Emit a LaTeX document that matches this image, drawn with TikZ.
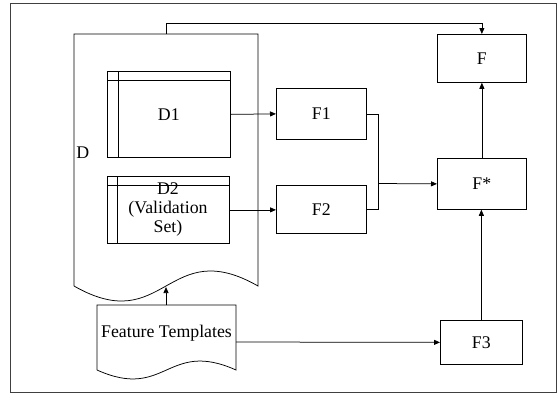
\documentclass[tikz,border=0pt]{standalone}
\usepackage{fontspec}
\setmainfont{Liberation Serif}
\usetikzlibrary{arrows.meta}
\begin{document}
\begin{tikzpicture}[x=1pt,y=-1pt,line width=0.75pt,
  txt/.style={font=\fontsize{17.8}{19}\selectfont},
  box/.style={draw,rectangle,inner sep=0pt,anchor=north west,txt},
  arr/.style={-{Triangle[length=6pt,width=5pt]}}]
\useasboundingbox (0,0) rectangle (559,394);
\draw[black!75] (10,3) rectangle (556,392);
% D document
\coordinate (Dtop) at (166,34);
\draw (74,286) -- (74,34) -- (258,34) -- (258,286)
  .. controls (167,234) and (165,338) .. (74,286);
\node[txt,anchor=west,inner sep=0pt] (Dlab) at (76,153) {D};
\coordinate (Dwave) at (166,287);
% D1
\node[box,minimum width=123pt,minimum height=86pt] (D1) at (107,71) {};
\draw (118,71) -- (118,157) (107,80) -- (230,80);
\node[txt] at (D1.center) {D1};
% D2
\node[box,minimum width=122pt,minimum height=67pt] (D2) at (107,176) {};
\draw (117,176) -- (117,243) (107,185) -- (229,185);
\node[txt,align=center,inner sep=0pt] at (168,209) {D2\\(Validation\\Set)};
% F boxes
\node[box,minimum width=89pt,minimum height=48pt] (F) at (437,34) {};
\node[txt] at (F.center) {F};
\node[box,minimum width=89pt,minimum height=51pt] (Fs) at (437,158) {};
\node[txt] at (Fs.center) {F*};
\node[box,minimum width=90pt,minimum height=51pt] (F1) at (276,88) {};
\node[txt] at (F1.center) {F1};
\node[box,minimum width=90pt,minimum height=48pt] (F2) at (276,185) {};
\node[txt] at (F2.center) {F2};
\node[box,minimum width=82pt,minimum height=44pt] (F3) at (440,320) {};
\node[txt] at (F3.center) {F3};
% Feature templates document
\draw (97,370) -- (97,305) -- (236,305) -- (236,370)
  .. controls (167,339) and (166,401) .. (97,370);
\node[txt,inner sep=0pt] (FT) at (166.5,333) {Feature Templates};
\coordinate (FTtop) at (166,305);
\coordinate (FTright) at (236,342);
% connectors
\draw[arr] (Dtop) -- ++(0,-11) -| (F.north);
\draw[arr] (D1.east) -- (F1.west);
\draw[arr] (D2.east) -- (D2.east -| F2.west);
\coordinate (J) at (378,183.5);
\draw (F1.east) -| (J);
\draw (F2.east) -| (J);
\draw[arr] (J) -- (Fs.west);
\draw[arr] (Fs.north) -- (F.south);
\draw[arr] (F3.north) -- (F3.north |- Fs.south);
\draw[arr] (FTright) -- (F3.west);
\draw[arr] (FTtop) -- (Dwave);
\end{tikzpicture}
\end{document}
